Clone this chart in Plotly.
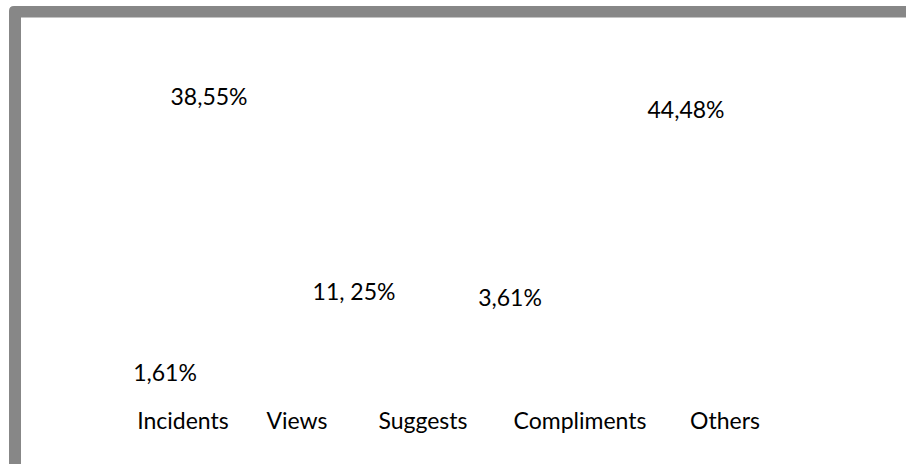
import plotly.graph_objects as go

# ---- data ----
categories = ["Incidents", "Views", "Suggests", "Compliments", "Others"]
values = [38.55, 11.25, 1.61, 3.61, 44.48]
value_labels = ["38,55%", "11, 25%", "1,61%", "3,61%", "44,48%"]

# ---- layout positions (pixel space of the 906x464 canvas) ----
cat_x = [183, 297, 423, 580, 725]
cat_y = 423
label_x = [209, 354, 165, 510, 686]
label_y = [99, 294, 375, 300, 112]

W, H = 906, 464
FONT = dict(family="Lato, 'Open Sans', sans-serif", size=23, color="#000000")

fig = go.Figure()
fig.add_trace(go.Scatter(
    x=label_x, y=label_y, mode="text", text=value_labels,
    textposition="middle center", textfont=FONT,
    customdata=values, hoverinfo="skip", showlegend=False,
))
fig.add_trace(go.Scatter(
    x=cat_x, y=[cat_y] * len(categories), mode="text", text=categories,
    textposition="middle center", textfont=FONT,
    hoverinfo="skip", showlegend=False,
))

# gray frame (top and left edges with rounded corner)
fig.add_shape(
    type="path", xref="x", yref="y",
    path="M 9,470 L 9,11 Q 9,6 14,6 L 912,6 L 912,17.5 L 21,17.5 L 21,470 Z",
    fillcolor="#878787", line=dict(width=0), layer="below",
)

fig.update_layout(
    width=W, height=H,
    margin=dict(l=0, r=0, t=0, b=0),
    paper_bgcolor="#ffffff", plot_bgcolor="#ffffff",
    xaxis=dict(range=[0, W], visible=False, fixedrange=True),
    yaxis=dict(range=[H, 0], visible=False, fixedrange=True),
)

fig.write_html(
    "out.html",
    config={"displayModeBar": False},
    post_script="document.body.style.margin='0';document.body.style.padding='0';",
)
